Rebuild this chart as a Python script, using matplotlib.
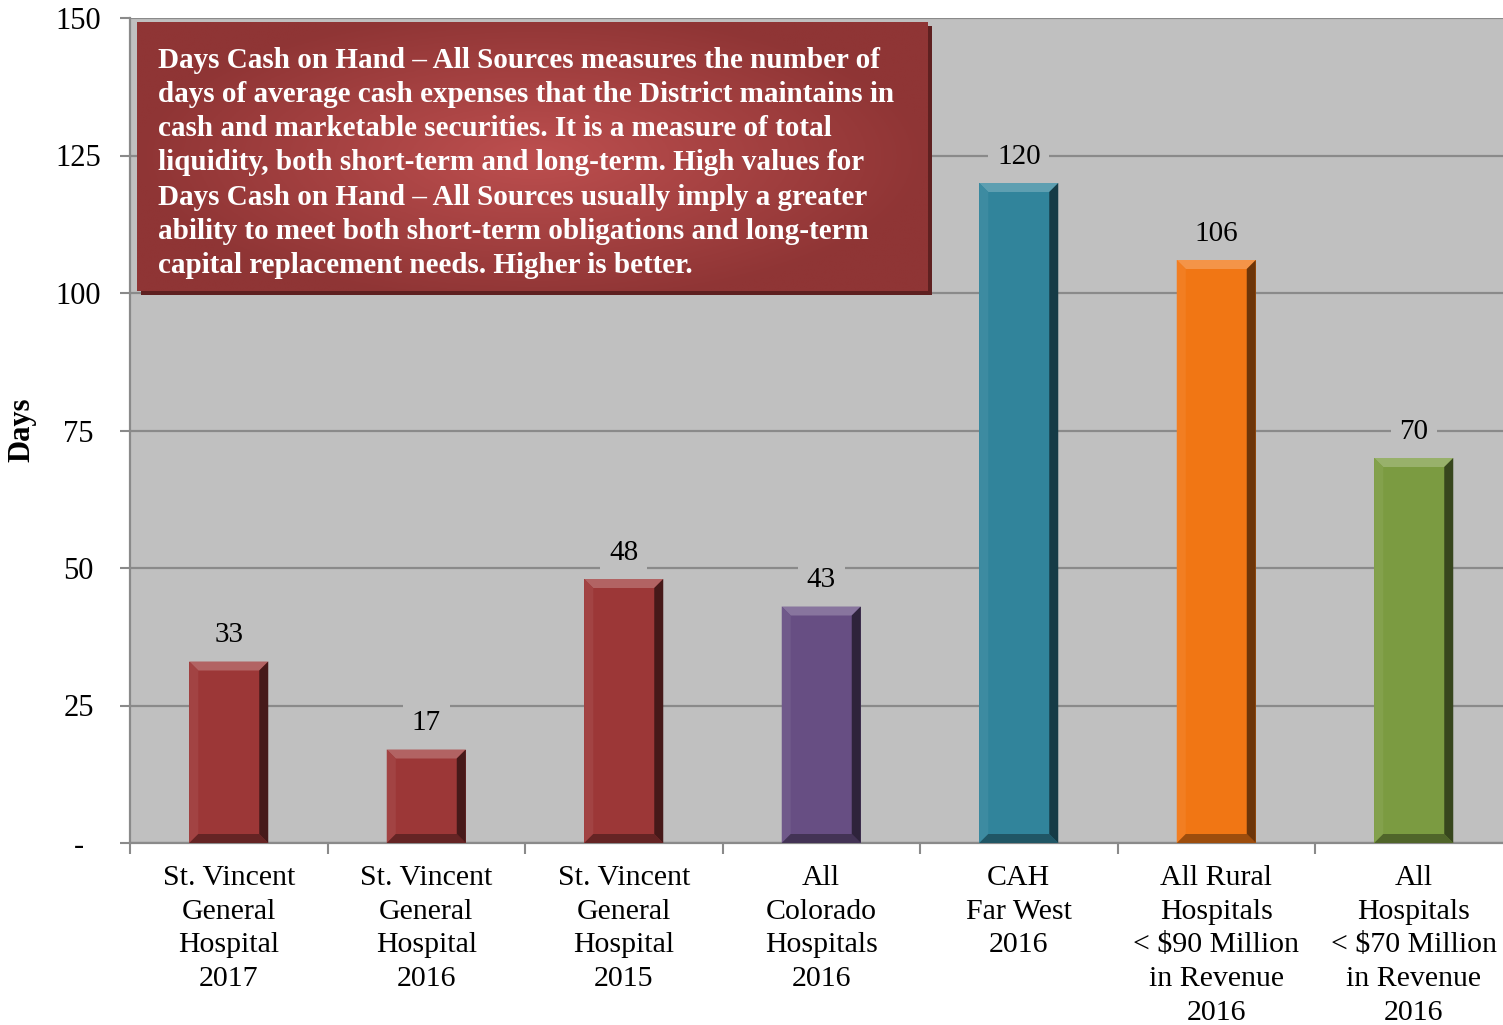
import numpy as np
import matplotlib
matplotlib.use("Agg")
import matplotlib.pyplot as plt
from matplotlib.patches import Polygon, Rectangle
import matplotlib.colors as mcolors

categories = [
    "St. Vincent\nGeneral\nHospital\n2017",
    "St. Vincent\nGeneral\nHospital\n2016",
    "St. Vincent\nGeneral\nHospital\n2015",
    "All\nColorado\nHospitals\n2016",
    "CAH\nFar West\n2016",
    "All Rural\nHospitals\n< $90 Million\nin Revenue\n2016",
    "All\nHospitals\n< $70 Million\nin Revenue\n2016",
]
values = [33, 17, 48, 43, 120, 106, 70]
bar_colors = ["#9c3737", "#9c3737", "#9c3737", "#674e83", "#31849b", "#f17614", "#7b9b41"]
y_ticks = [0, 25, 50, 75, 100, 125, 150]
y_tick_labels = ["-", "25", "50", "75", "100", "125", "150"]
note = ("Days Cash on Hand \u2013 All Sources measures the number of\n"
        "days of average cash expenses that the District maintains in\n"
        "cash and marketable securities. It is a measure of total\n"
        "liquidity, both short-term and long-term. High values for\n"
        "Days Cash on Hand \u2013 All Sources usually imply a greater\n"
        "ability to meet both short-term obligations and long-term\n"
        "capital replacement needs. Higher is better.")

plt.rcParams["font.family"] = ["Liberation Serif", "DejaVu Serif"]

W, H = 1503, 1025
cat_px = 197.5
ax_w_px = cat_px * len(values)
ax_h_px = 843 - 18
fig = plt.figure(figsize=(W / 100, H / 100), dpi=100)
ax = fig.add_axes([130 / W, 1 - 843 / H, ax_w_px / W, ax_h_px / H])
bg = "#c0c0c0"
ax.set_facecolor(bg)
grid_c = "#8a8a8a"

x = np.arange(len(values))
ax.set_xlim(-0.5, len(values) - 0.5)
ax.set_ylim(0, 150)
ax.set_yticks(y_ticks)
ax.set_yticklabels(y_tick_labels, fontsize=22)
ax.yaxis.grid(True, color=grid_c, lw=1.6, zorder=0)
ax.set_axisbelow(True)

bars = ax.bar(x, values, width=0.4, color=bar_colors, zorder=3, linewidth=0)

# bevel decoration derived from each bar's geometry
bpx = 9
bx = bpx / cat_px
by = bpx * 150 / ax_h_px
for b, c in zip(bars, bar_colors):
    x0 = b.get_x(); x1 = x0 + b.get_width(); y1 = b.get_height(); y0 = 0
    rgb = np.array(mcolors.to_rgb(c))
    light = tuple(rgb + (1 - rgb) * 0.22)
    lleft = tuple(rgb + (1 - rgb) * 0.06)
    dark = tuple(rgb * 0.45)
    dbot = tuple(rgb * 0.65)
    polys = [
        ([(x0, y1), (x1, y1), (x1 - bx, y1 - by), (x0 + bx, y1 - by)], light),
        ([(x0, y0), (x0, y1), (x0 + bx, y1 - by), (x0 + bx, y0 + by)], lleft),
        ([(x0, y0), (x1, y0), (x1 - bx, y0 + by), (x0 + bx, y0 + by)], dbot),
        ([(x1, y0), (x1, y1), (x1 - bx, y1 - by), (x1 - bx, y0 + by)], dark),
    ]
    for pts, col in polys:
        ax.add_patch(Polygon(pts, closed=True, facecolor=col, edgecolor="none", zorder=4))
    ax.annotate(str(int(y1)), (b.get_x() + b.get_width() / 2, y1), xytext=(0, 19),
                textcoords="offset points", ha="center", va="center", fontsize=21,
                zorder=5, bbox=dict(boxstyle="square,pad=0.3", fc=bg, ec="none"))

ax.set_xticks(x)
ax.set_xticklabels(categories, fontsize=21.5, linespacing=1.38)
ax.set_xticks(np.arange(-0.5, len(values), 1.0), minor=True)
ax.tick_params(axis="x", which="major", length=0, pad=16)
ax.tick_params(axis="x", which="minor", length=8, color=grid_c, width=1.5, direction="out")
ax.tick_params(axis="y", length=7, color=grid_c, width=1.5, direction="out", pad=30)
for lab in ax.get_yticklabels():
    lab.set_horizontalalignment("center")
for s in ["top", "right"]:
    ax.spines[s].set_visible(False)
for s in ["left", "bottom"]:
    ax.spines[s].set_color(grid_c)
    ax.spines[s].set_linewidth(1.6)

fig.text(22 / W, 1 - 430 / H, "Days", rotation=90, ha="center", va="center",
         fontsize=22, fontweight="bold")

# note box with shadow and radial gradient
bl, br, bt, bb = 137, 928, 22, 291
sh = 4
fig.patches.append(Rectangle(((bl + sh) / W, 1 - (bb + sh) / H), (br - bl) / W, (bb - bt) / H,
                             transform=fig.transFigure, facecolor="#5e2020", edgecolor="none",
                             zorder=5))
gax = fig.add_axes([bl / W, 1 - bb / H, (br - bl) / W, (bb - bt) / H], zorder=6)
gx, gy = np.meshgrid(np.linspace(-1, 1, 400), np.linspace(-1, 1, 140))
r = np.clip(np.sqrt((gx / 1.0) ** 2 + (gy / 1.1) ** 2), 0, 1)
c_in = np.array(mcolors.to_rgb("#bd4f4f"))
c_out = np.array(mcolors.to_rgb("#8f3535"))
img = c_in[None, None, :] * (1 - r[..., None]) + c_out[None, None, :] * r[..., None]
gax.imshow(img, aspect="auto", extent=[0, 1, 0, 1])
gax.set_axis_off()
gax.text(21 / (br - bl), 1 - 25 / (bb - bt), note, transform=gax.transAxes, ha="left", va="top",
         color="white", fontsize=21, fontweight="bold", linespacing=1.34)

fig.savefig("out.png", dpi=100)
